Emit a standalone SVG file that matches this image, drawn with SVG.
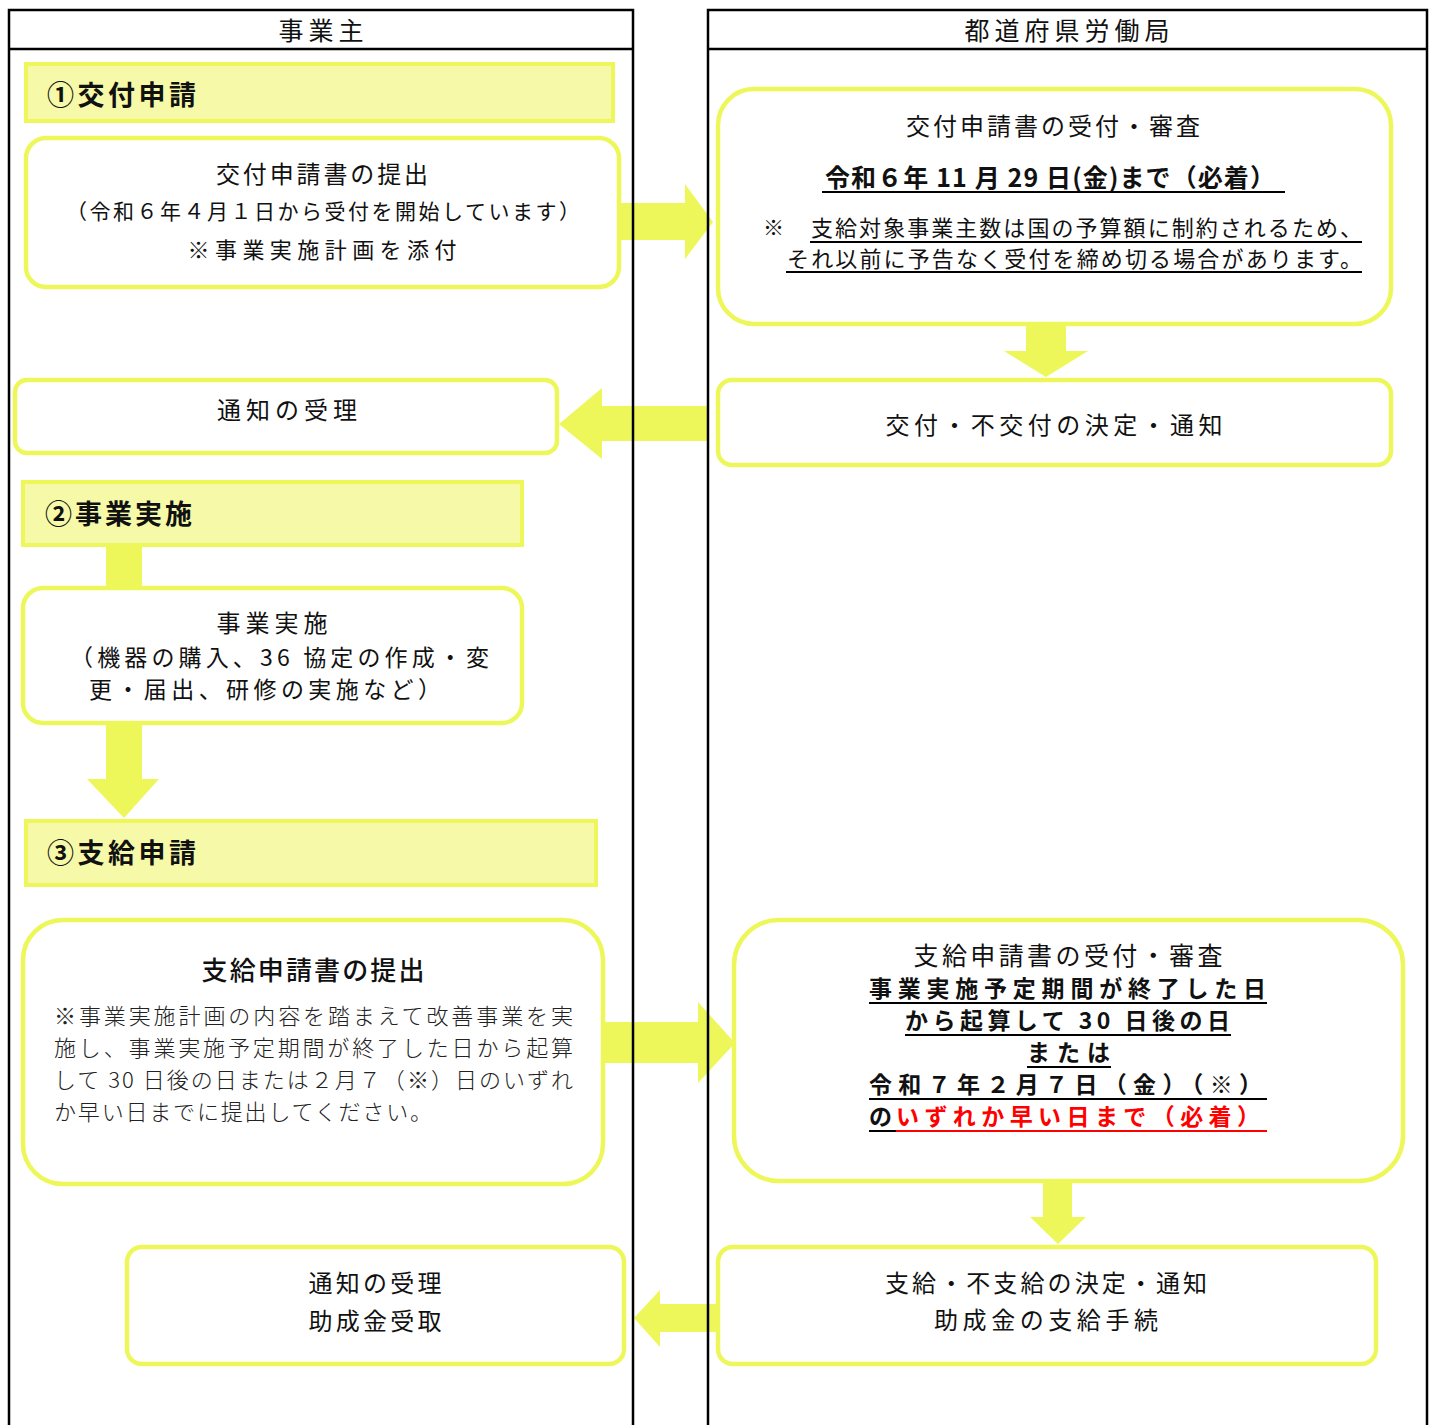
<svg xmlns="http://www.w3.org/2000/svg" width="1434" height="1425" viewBox="0 0 1434 1425">
<style>
.lane{fill:none;stroke:#000;stroke-width:2.5}
.band{fill:#F6FAA8;stroke:#EEF75A;stroke-width:4}
.box{fill:#fff;stroke:#EEF75A;stroke-width:4.5}
.arrow{fill:#EEF75A}
.t{font-family:"Noto Sans CJK JP","Noto Sans CJK SC",sans-serif;fill:#111;dominant-baseline:central}
.c{text-anchor:middle}
.b{font-weight:bold}
.m{font-weight:300;fill:#222}
.ul{stroke:#000;stroke-width:2}
.red{fill:#F00}
</style>
<rect width="1434" height="1425" fill="#fff"/>
<g id="connectors">
<polygon class="arrow" points="620,203 685,203 685,184 713,222 685,259 685,240 620,240"/>
<polygon class="arrow" points="1026,323 1066,323 1066,351 1088,351 1046,377 1004,351 1026,351"/>
<polygon class="arrow" points="708,406 602,406 602,388 559,424 602,459 602,441 708,441"/>
<rect class="arrow" x="106" y="545" width="36" height="43"/>
<polygon class="arrow" points="106,722 142,722 142,779 159,779 124,818 87,779 106,779"/>
<polygon class="arrow" points="604,1022 698,1022 698,1002 735,1043 698,1083 698,1063 604,1063"/>
<polygon class="arrow" points="1043,1180 1072,1180 1072,1217 1086,1217 1058,1244 1030,1217 1043,1217"/>
<polygon class="arrow" points="717,1304 660,1304 660,1290 634,1318 660,1347 660,1332 717,1332"/>
</g>
<g id="lane-employer">
<rect class="lane" x="9" y="10" width="624" height="1430"/>
<line class="lane" x1="9" y1="49" x2="633" y2="49"/>
<text class="t c" x="321" y="29" font-size="25" textLength="85">事業主</text>
</g>
<g id="lane-bureau">
<rect class="lane" x="708" y="10" width="719" height="1430"/>
<line class="lane" x1="708" y1="49" x2="1427" y2="49"/>
<text class="t c" x="1067" y="29" font-size="25" textLength="205">都道府県労働局</text>
</g>
<g id="band1">
<rect class="band" x="26" y="64" width="587" height="57"/>
<text class="t b" x="47" y="93" font-size="27" textLength="149">①交付申請</text>
</g>
<g id="box-apply">
<rect class="box" x="26" y="138" width="593" height="149" rx="20"/>
<text class="t c" x="322" y="172" font-size="24" textLength="212">交付申請書の提出</text>
<text class="t c" x="323" y="210" font-size="21" textLength="514">（令和６年４月１日から受付を開始しています）</text>
<text class="t c" x="322" y="248" font-size="22" textLength="269">※事業実施計画を添付</text>
</g>
<g id="box-receive">
<rect class="box" x="718" y="89" width="673" height="235" rx="36"/>
<text class="t c" x="1053" y="124" font-size="24" textLength="294">交付申請書の受付・審査</text>
<text class="t c b" x="1050" y="176" font-size="25" textLength="450">令和６年 11 月 29 日(金)まで（必着）</text>
<line class="ul" x1="822" y1="192" x2="1285" y2="192"/>
<text class="t" x="763" y="226" font-size="21">※</text>
<text class="t" x="811" y="226" font-size="22" textLength="551">支給対象事業主数は国の予算額に制約されるため、</text>
<line class="ul" x1="810" y1="242" x2="1362" y2="242"/>
<text class="t" x="787" y="257" font-size="22" textLength="575">それ以前に予告なく受付を締め切る場合があります。</text>
<line class="ul" x1="786" y1="272" x2="1362" y2="272"/>
</g>
<g id="box-decide">
<rect class="box" x="718" y="380" width="673" height="85" rx="14"/>
<text class="t c" x="1054" y="423" font-size="24" textLength="337">交付・不交付の決定・通知</text>
</g>
<g id="box-notice1">
<rect class="box" x="15" y="380" width="542" height="73" rx="12"/>
<text class="t c" x="287" y="408" font-size="24" textLength="140">通知の受理</text>
</g>
<g id="band2">
<rect class="band" x="23" y="482" width="499" height="63"/>
<text class="t b" x="45" y="512" font-size="27" textLength="147">②事業実施</text>
</g>
<g id="box-implement">
<rect class="box" x="23" y="588" width="499" height="135" rx="20"/>
<text class="t c" x="272" y="621" font-size="24" textLength="111">事業実施</text>
<text class="t" x="70" y="656" font-size="23" textLength="419">（機器の購入、36 協定の作成・変</text>
<text class="t" x="89" y="688" font-size="23" textLength="352">更・届出、研修の実施など）</text>
</g>
<g id="band3">
<rect class="band" x="26" y="821" width="570" height="64"/>
<text class="t b" x="47" y="851" font-size="27" textLength="149">③支給申請</text>
</g>
<g id="box-payapply">
<rect class="box" x="23" y="920" width="580" height="264" rx="40"/>
<text class="t c" x="313" y="968" font-size="26" textLength="223" font-weight="500">支給申請書の提出</text>
<text class="t m" x="54" y="1014" font-size="22" textLength="519">※事業実施計画の内容を踏まえて改善事業を実</text>
<text class="t m" x="54" y="1046" font-size="22" textLength="519">施し、事業実施予定期間が終了した日から起算</text>
<text class="t m" x="54" y="1078" font-size="22" textLength="519">して 30 日後の日または２月７（※）日のいずれ</text>
<text class="t m" x="54" y="1110" font-size="22" textLength="378">か早い日までに提出してください。</text>
</g>
<g id="box-payreceive">
<rect class="box" x="734" y="920" width="669" height="261" rx="45"/>
<text class="t c" x="1068" y="954" font-size="25" textLength="309">支給申請書の受付・審査</text>
<text class="t b" x="869" y="987" font-size="23" textLength="397">事業実施予定期間が終了した日</text>
<line class="ul" x1="869" y1="1003" x2="1267" y2="1003"/>
<text class="t b" x="905" y="1019" font-size="23" textLength="325">から起算して 30 日後の日</text>
<line class="ul" x1="905" y1="1035" x2="1231" y2="1035"/>
<text class="t b" x="1027" y="1051" font-size="23" textLength="83">または</text>
<line class="ul" x1="1027" y1="1067" x2="1111" y2="1067"/>
<text class="t b" x="869" y="1083" font-size="23" textLength="393">令和７年２月７日（金）（※）</text>
<line class="ul" x1="869" y1="1099" x2="1267" y2="1099"/>
<text class="t b" x="869" y="1115" font-size="23" textLength="27">の</text>
<text class="t b red" x="896" y="1115" font-size="23" textLength="364">いずれか早い日まで（必着）</text>
<line class="ul" x1="869" y1="1131" x2="897" y2="1131"/>
<line x1="896" y1="1131" x2="1267" y2="1131" stroke="#F00" stroke-width="2"/>
</g>
<g id="box-paydecide">
<rect class="box" x="718" y="1247" width="658" height="117" rx="15"/>
<text class="t c" x="1046" y="1281" font-size="24" textLength="322">支給・不支給の決定・通知</text>
<text class="t c" x="1046" y="1318" font-size="24" textLength="224">助成金の支給手続</text>
</g>
<g id="box-notice2">
<rect class="box" x="127" y="1247" width="497" height="117" rx="15"/>
<text class="t c" x="375" y="1281" font-size="24" textLength="133">通知の受理</text>
<text class="t c" x="375" y="1319" font-size="24" textLength="133">助成金受取</text>
</g>
</svg>
